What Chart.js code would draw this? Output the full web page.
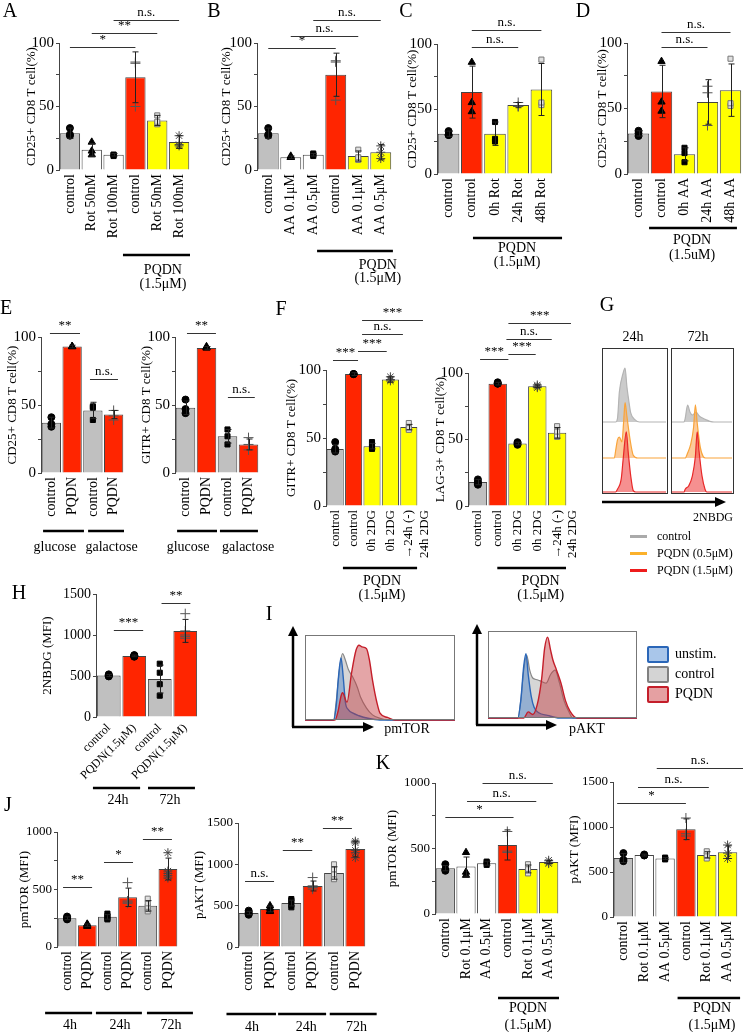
<!DOCTYPE html>
<html>
<head>
<meta charset="utf-8">
<script src="https://cdn.jsdelivr.net/npm/chart.js@4.4.1/dist/chart.umd.min.js"></script>
<style>
body { margin: 0; background: #fff; }
#page { position: relative; width: 744px; height: 1032px; overflow: hidden; font-family: "Liberation Serif", "Times New Roman", serif; color: #000; }
canvas { position: absolute; }
.t { position: absolute; white-space: nowrap; transform: translate(-50%, -50%); line-height: 1; }
.tl { position: absolute; white-space: nowrap; transform: translate(0, -50%); line-height: 1; }
.box { position: absolute; border: 1px solid #333; box-sizing: border-box; }
.sw { position: absolute; box-sizing: border-box; border-radius: 2px; border: 2px solid; }
</style>
</head>
<body>
<div id="page"></div>
<script>
// ---------- A: rotenone, CD25 ----------
const aLabels = ['control', 'Rot 50nM', 'Rot 100nM', 'control', 'Rot 50nM', 'Rot 100nM'];
const aMeans = [29, 16, 12, 73, 39, 22];
const aSd = [4, 5, 1, 20, 4, 5];
const aPoints = [[33, 27, 28], [22, 15, 12], [12, 12, 11], [85, 84, 50], [43, 38, 36], [27, 20, 19]];

// ---------- B: antimycin A, CD25 ----------
const bLabels = ['control', 'AA 0.1μM', 'AA 0.5μM', 'control', 'AA 0.1μM', 'AA 0.5μM'];
const bMeans = [29, 10, 12, 75, 11, 14];
const bSd = [4, 1, 1, 17, 4, 6];
const bPoints = [[33, 27, 28], [11, 10, 10], [13, 12, 11], [86, 85, 55], [16, 10, 8], [19, 14, 9]];

// ---------- C: rotenone timing ----------
const cLabels = ['control', 'control', '0h Rot', '24h Rot', '48h Rot'];
const cMeans = [31, 63, 31, 53, 65];
const cSd = [2, 20, 9, 2, 20];
const cPoints = [[33, 30, 30], [86, 55, 48], [40, 27, 25], [55, 52, 52], [88, 55, 53]];

// ---------- D: AA timing ----------
const dLabels = ['control', 'control', '0h AA', '24h AA', '48h AA'];
const dMeans = [31, 63, 15, 55, 64];
const dSd = [2, 20, 5, 17, 20];
const dPoints = [[33, 29, 31], [86, 55, 48], [20, 16, 9], [67, 62, 37], [88, 54, 52]];

// ---------- E: glucose / galactose ----------
const eLabels = ['control', 'PQDN', 'control', 'PQDN'];
const eCd25Means = [37, 93, 46, 43];
const eCd25Sd = [4, 1, 6, 3];
const eCd25Points = [[41, 36, 34], [93, 93, 93], [49, 48, 39], [46, 42, 39]];
const eGitrMeans = [48, 92, 27, 21];
const eGitrSd = [5, 1, 5, 4];
const eGitrPoints = [[54, 47, 44], [93, 92, 92], [32, 27, 21], [26, 21, 17]];

// ---------- F: 2DG ----------
const fLabels = ['control', 'control', '0h 2DG', '0h 2DG', ['→24h (-)', '24h 2DG']];
const fGitrMeans = [42, 97, 44, 93, 58];
const fGitrSd = [3, 1, 2, 2, 2];
const fGitrPoints = [[47, 42, 40, 41], [97, 97, 97], [47, 45, 43, 42], [95, 93, 92], [61, 58, 56, 57]];
const fLagMeans = [18, 92, 47, 90, 55];
const fLagSd = [2, 1, 1, 1, 4];
const fLagPoints = [[20, 18, 17, 16], [93, 92, 92], [48, 47, 46], [91, 90, 89], [60, 56, 53, 52]];

// ---------- H: 2NBDG MFI ----------
const hLabels = ['control', 'PQDN(1.5μM)', 'control', 'PQDN(1.5μM)'];
const hMeans = [505, 745, 463, 1050];
const hSd = [12, 10, 170, 140];
const hPoints = [[520, 510, 505, 500, 495], [755, 750, 745, 740, 735], [650, 540, 400, 260], [1260, 1000, 980, 960, 1050]];

// ---------- J: time course ----------
const jLabels = ['control', 'PQDN', 'control', 'PQDN', 'control', 'PQDN'];
const jMtorMeans = [250, 190, 262, 432, 358, 678];
const jMtorSd = [12, 10, 20, 80, 45, 95];
const jMtorPoints = [[265, 255, 245, 240], [200, 195, 185, 180], [290, 270, 250, 240], [560, 400, 390, 380], [420, 380, 350, 330, 310], [820, 660, 640, 620, 600]];
const jAktMeans = [411, 460, 532, 738, 895, 1185];
const jAktSd = [20, 35, 35, 60, 75, 95];
const jAktPoints = [[440, 420, 400, 390], [500, 470, 440, 430], [580, 560, 510, 480], [840, 740, 720, 700], [1000, 940, 880, 820, 830], [1280, 1260, 1170, 1080, 1140]];

// ---------- K: inhibitors ----------
const kLabels = ['control', 'Rot 0.1μM', 'AA 0.5μM', 'control', 'Rot 0.1μM', 'AA 0.5μM'];
const kMtorMeans = [350, 362, 388, 527, 344, 397];
const kMtorSd = [20, 73, 15, 115, 30, 12];
const kMtorPoints = [[380, 340, 330], [470, 320, 296], [400, 390, 375], [630, 480, 470], [380, 345, 310], [410, 395, 385]];
const kAktMeans = [655, 688, 650, 975, 690, 720];
const kAktSd = [50, 10, 10, 115, 35, 70];
const kAktPoints = [[710, 620, 635], [695, 685, 684], [660, 650, 640], [1100, 900, 925], [730, 690, 650], [800, 710, 650]];

// ---------- histograms, x: % of frame width, y: fraction of height ----------
const g24Control = [[0, 0], [20, 0], [23, 0.05], [26, 0.43], [32, 0.7], [35, 0.77], [38, 0.5], [41, 0.3], [44, 0.13], [51, 0.03], [58, 0], [100, 0]];
const g24Low = [[0, 0], [18, 0], [20, 0.1], [23, 0.26], [26, 0.3], [30, 0.23], [33, 0.55], [35, 0.79], [38, 0.59], [43, 0.26], [48, 0.04], [55, 0], [100, 0]];
const g24High = [[0, 0], [20, 0], [23, 0.04], [29, 0.19], [32, 0.47], [37, 0.86], [40, 0.57], [44, 0.23], [48, 0.02], [52, 0], [100, 0]];
const g72Control = [[0, 0], [20, 0], [22, 0.05], [26, 0.24], [30, 0.14], [34, 0.1], [40, 0.14], [45, 0.09], [50, 0.06], [57, 0.03], [63, 0.01], [70, 0], [100, 0]];
const g72Low = [[0, 0], [22, 0], [26, 0.07], [31, 0.19], [36, 0.44], [39, 0.76], [42, 0.5], [47, 0.16], [52, 0.02], [56, 0], [100, 0]];
const g72High = [[0, 0], [20, 0], [22, 0.04], [28, 0.09], [34, 0.23], [39, 0.51], [42, 0.86], [45, 0.59], [50, 0.23], [55, 0.04], [58, 0], [100, 0]];

const pmtorUnstim = [[0, 0], [19, 0], [21, 0.2], [22, 0.44], [24, 0.73], [25.5, 0.5], [27, 0.2], [29, 0.12], [32, 0.08], [36, 0.05], [42, 0.02], [50, 0], [100, 0]];
const pmtorControl = [[0, 0], [19, 0], [21, 0.25], [23, 0.6], [25, 0.78], [27, 0.7], [29, 0.59], [32, 0.5], [35, 0.38], [37, 0.27], [41, 0.14], [45, 0.06], [50, 0.02], [55, 0], [100, 0]];
const pmtorPqdn = [[0, 0], [20, 0], [22, 0.1], [24, 0.28], [25, 0.32], [28, 0.21], [31, 0.55], [34, 0.82], [36, 0.88], [38, 0.86], [41, 0.84], [43, 0.7], [45, 0.47], [48, 0.2], [50, 0.08], [55, 0.03], [60, 0], [100, 0]];
const paktUnstim = [[0, 0], [20, 0], [22, 0.2], [24, 0.6], [25.5, 0.74], [27, 0.5], [29, 0.25], [31, 0.12], [34, 0.06], [40, 0.03], [48, 0], [100, 0]];
const paktControl = [[0, 0], [20, 0], [22, 0.2], [24, 0.55], [26, 0.72], [28, 0.55], [30, 0.46], [33, 0.44], [36, 0.42], [39, 0.4], [42, 0.5], [45, 0.55], [48, 0.4], [51, 0.2], [54, 0.08], [57, 0], [100, 0]];
const paktPqdn = [[0, 0], [24, 0], [27, 0.07], [30, 0.04], [33, 0.15], [36, 0.45], [38, 0.8], [40, 0.93], [42, 0.78], [43.5, 0.67], [46, 0.55], [49, 0.4], [52, 0.2], [55, 0.08], [60, 0], [100, 0]];

// ---------- styles ----------
const GRAY = '#c0c0c0', RED = '#ff2500', YEL = '#ffff00', WHITE = '#ffffff';
const FONT = '"Liberation Serif", "Times New Roman", serif';
const MARK = {
  circle: { s: 'circle', r: 3.5, bg: '#000', bd: '#000' },
  triangle: { s: 'triangle', r: 4.2, bg: '#000', bd: '#000' },
  square: { s: 'rect', r: 3.6, bg: '#000', bd: '#000' },
  plus: { s: 'cross', r: 5, bg: 'rgba(0,0,0,0)', bd: '#555' },
  boxx: { s: 'rect', r: 3.6, bg: '#e0e0e0', bd: '#777' },
  star: { s: 'star', r: 4.5, bg: 'rgba(0,0,0,0)', bd: '#444' }
};

Chart.defaults.font.family = FONT;
Chart.defaults.font.size = 13;
Chart.defaults.color = '#000';
Chart.defaults.animation = false;
Chart.defaults.plugins.legend.display = false;
Chart.defaults.plugins.tooltip.enabled = false;

const page = document.getElementById('page');

function addCanvas(left, top, w, h) {
  const c = document.createElement('canvas');
  c.width = w; c.height = h;
  c.style.left = left + 'px'; c.style.top = top + 'px';
  c.style.width = w + 'px'; c.style.height = h + 'px';
  page.appendChild(c);
  return c;
}

function text(x, y, s, size, cls) {
  const d = document.createElement('div');
  d.className = cls || 't';
  d.style.left = x + 'px'; d.style.top = y + 'px';
  d.style.fontSize = size + 'px';
  d.textContent = s;
  page.appendChild(d);
  return d;
}

// error bars, brackets and group underlines, all placed through the chart scales
function extras(box, sd) {
  return {
    id: 'extras',
    afterDatasetsDraw(chart) {
      const { ctx } = chart;
      const ys = chart.scales.y;
      const meta = chart.getDatasetMeta(0);
      ctx.save();
      ctx.strokeStyle = '#222';
      ctx.lineWidth = 1;
      meta.data.forEach((bar, i) => {
        const m = chart.data.datasets[0].data[i];
        const x = Math.round(bar.x) + 0.5;
        const y1 = ys.getPixelForValue(m - sd[i]), y2 = ys.getPixelForValue(m + sd[i]);
        ctx.beginPath();
        ctx.moveTo(x, y1); ctx.lineTo(x, y2);
        ctx.moveTo(x - 3, y1); ctx.lineTo(x + 3, y1);
        ctx.moveTo(x - 3, y2); ctx.lineTo(x + 3, y2);
        ctx.stroke();
      });
      ctx.restore();
    },
    afterDraw(chart) {
      const { ctx, chartArea } = chart;
      const xs = chart.scales.x, ys = chart.scales.y;
      const px = i => xs.getPixelForValue(i);
      ctx.save();
      ctx.textAlign = 'center';
      ctx.font = '13px ' + FONT;
      (box.brackets || []).forEach(([i0, i1, v, t]) => {
        const y = Math.round(ys.getPixelForValue(v)) + 0.5;
        ctx.strokeStyle = '#333';
        ctx.lineWidth = 1;
        ctx.beginPath(); ctx.moveTo(px(i0), y); ctx.lineTo(px(i1), y); ctx.stroke();
        ctx.fillStyle = '#000';
        ctx.textBaseline = 'bottom';
        ctx.fillText(t, (px(i0) + px(i1)) / 2, y - 1);
      });
      ctx.font = '14px ' + FONT;
      (box.groups || []).forEach(g => {
        const y = chartArea.bottom + g.dy;
        ctx.strokeStyle = '#000';
        ctx.lineWidth = 2.5;
        ctx.beginPath(); ctx.moveTo(px(g.a), y); ctx.lineTo(px(g.b), y); ctx.stroke();
        ctx.textBaseline = 'middle';
        g.text.forEach((t, j) => ctx.fillText(t, px(g.tx), chartArea.bottom + g.ty[j]));
      });
      ctx.restore();
    }
  };
}

function barChart(box, labels, means, sd, points, fills, marks) {
  const PT = Math.min(70, box.top), XH = 70, PB = 60, PR = 40;
  const YW = Math.round(box.gap + 8);
  const left = box.x0 - YW;
  const w = box.x1 + PR - left, h = PT + (box.bottom - box.top) + XH + PB;
  const cv = addCanvas(left, box.top - PT, w, h);
  const rot = box.rot || 90;
  const reps = Math.max(...points.map(p => p.length));
  const dots = [];
  for (let k = 0; k < reps; k++) {
    dots.push({
      type: 'line', showLine: false, order: 1,
      data: points.map(p => (p[k] === undefined ? null : p[k])),
      pointStyle: c => MARK[marks[c.dataIndex]].s,
      pointRadius: c => MARK[marks[c.dataIndex]].r,
      pointBackgroundColor: c => MARK[marks[c.dataIndex]].bg,
      pointBorderColor: c => MARK[marks[c.dataIndex]].bd,
      pointBorderWidth: 1
    });
  }
  new Chart(cv, {
    type: 'bar',
    data: {
      labels: labels,
      datasets: [{
        data: means, order: 2,
        backgroundColor: fills, borderColor: '#444', borderWidth: 1,
        barPercentage: 0.93, categoryPercentage: 1
      }, ...dots]
    },
    options: {
      responsive: false,
      layout: { padding: { left: 0, top: PT, right: PR, bottom: PB } },
      scales: {
        x: {
          grid: { display: false, drawTicks: false },
          border: { display: false },
          ticks: { autoSkip: false, minRotation: rot, maxRotation: rot, padding: 4, font: { size: box.xfs || 14 } },
          afterFit: s => { s.height = XH; }
        },
        y: {
          min: 0, max: box.max,
          ticks: { stepSize: box.step, padding: 2, font: { size: box.yfs || 15 }, callback: v => (v % box.major === 0 ? v : '') },
          grid: { drawOnChartArea: false, tickLength: 3, color: '#444' },
          border: { color: '#444' },
          title: { display: true, text: box.title, padding: 0, font: { size: 13 } },
          afterFit: s => { s.width = YW; }
        }
      }
    },
    plugins: [extras(box, sd)]
  });
}

const frame = {
  id: 'frame',
  afterDraw(chart) {
    const { ctx, chartArea: a } = chart;
    ctx.save();
    ctx.strokeStyle = '#777';
    ctx.lineWidth = 1;
    ctx.strokeRect(a.left + 0.5, a.top + 0.5, a.width - 1, a.height - 1);
    ctx.restore();
  }
};

function histChart(left, top, w, h, pad, sets, withFrame) {
  const cv = addCanvas(left, top, w, h);
  new Chart(cv, {
    type: 'line',
    data: {
      datasets: sets.map(s => ({
        data: s.pts.map(([x, y]) => ({ x, y })),
        borderColor: s.line, backgroundColor: s.fill, borderWidth: s.bw || 1.2,
        fill: 'origin', pointRadius: 0, cubicInterpolationMode: 'monotone', clip: 3
      }))
    },
    options: {
      responsive: false,
      layout: { padding: pad },
      scales: {
        x: { type: 'linear', min: 0, max: 100, display: false },
        y: { min: 0, max: 1, display: false }
      }
    },
    plugins: withFrame ? [frame] : []
  });
}

// ---------- row 1 ----------
barChart({ x0: 59, x1: 190, top: 43, bottom: 170, gap: 27, max: 100, step: 25, major: 50,
  title: 'CD25+ CD8 T cell(%)',
  brackets: [[0, 3, 97, '*'], [1, 4, 108, '**'], [2, 5, 118, 'n.s.']],
  groups: [{ a: 2.43, b: 5.5, dy: 85, tx: 4.26, ty: [100, 114], text: ['PQDN', '(1.5μM)'] }] },
  aLabels, aMeans, aSd, aPoints, [GRAY, WHITE, WHITE, RED, YEL, YEL],
  ['circle', 'triangle', 'square', 'plus', 'boxx', 'star']);

barChart({ x0: 257, x1: 392, top: 43, bottom: 170, gap: 30, max: 100, step: 25, major: 50,
  title: 'CD25+ CD8 T cell(%)',
  brackets: [[0, 3, 96, '*'], [1, 4, 105.5, 'n.s.'], [2, 5, 118, 'n.s.']],
  groups: [{ a: 2.17, b: 5.54, dy: 81, tx: 4.87, ty: [95, 108], text: ['PQDN', '(1.5μM)'] }] },
  bLabels, bMeans, bSd, bPoints, [GRAY, WHITE, WHITE, RED, YEL, YEL],
  ['circle', 'triangle', 'square', 'plus', 'boxx', 'star']);

barChart({ x0: 437, x1: 553, top: 44, bottom: 174, gap: 24, max: 100, step: 25, major: 50,
  title: 'CD25+ CD8 T cell(%)',
  brackets: [[1, 3, 97.7, 'n.s.'], [1, 4, 111, 'n.s.']],
  groups: [{ a: 1.05, b: 4.89, dy: 64, tx: 2.95, ty: [74, 88], text: ['PQDN', '(1.5μM)'] }] },
  cLabels, cMeans, cSd, cPoints, [GRAY, RED, YEL, YEL, YEL],
  ['circle', 'triangle', 'square', 'plus', 'boxx']);

barChart({ x0: 627, x1: 742, top: 43, bottom: 174, gap: 24, max: 100, step: 25, major: 50,
  title: 'CD25+ CD8 T cell(%)',
  brackets: [[1, 3, 97, 'n.s.'], [1, 4, 108.4, 'n.s.']],
  groups: [{ a: 0.46, b: 4.28, dy: 54, tx: 2.33, ty: [66, 81], text: ['PQDN', '(1.5uM)'] }] },
  dLabels, dMeans, dSd, dPoints, [GRAY, RED, YEL, YEL, YEL],
  ['circle', 'triangle', 'square', 'plus', 'boxx']);

// ---------- row 2 ----------
barChart({ x0: 41, x1: 124, top: 337, bottom: 473, gap: 28, max: 100, step: 25, major: 50,
  title: 'CD25+ CD8 T cell(%)',
  brackets: [[-0.07, 1.38, 103, '**'], [1.86, 3.21, 69, 'n.s.']],
  groups: [{ a: -0.4, b: 1.57, dy: 58, tx: 0.17, ty: [74], text: ['glucose'] },
           { a: 1.77, b: 3.5, dy: 58, tx: 2.9, ty: [74], text: ['galactose'] }] },
  eLabels, eCd25Means, eCd25Sd, eCd25Points, [GRAY, RED, GRAY, RED],
  ['circle', 'triangle', 'square', 'plus']);

barChart({ x0: 175, x1: 259, top: 337, bottom: 473, gap: 28, max: 100, step: 25, major: 50,
  title: 'GITR+ CD8 T cell(%)',
  brackets: [[0.07, 1.45, 103, '**'], [2.02, 3.3, 56, 'n.s.']],
  groups: [{ a: -0.4, b: 1.5, dy: 58, tx: 0.12, ty: [74], text: ['glucose'] },
           { a: 1.64, b: 3.45, dy: 58, tx: 2.98, ty: [74], text: ['galactose'] }] },
  eLabels, eGitrMeans, eGitrSd, eGitrPoints, [GRAY, RED, GRAY, RED],
  ['circle', 'triangle', 'square', 'plus']);

barChart({ x0: 326, x1: 418, top: 370, bottom: 506, gap: 34, max: 100, step: 25, major: 50, xfs: 13,
  title: 'GITR+ CD8 T cell(%)',
  brackets: [[-0.12, 1.24, 107, '***'], [1.24, 2.8, 114, '***'], [1.46, 3.68, 126.5, 'n.s.'], [1.46, 4.77, 137, '***']],
  groups: [{ a: 0.42, b: 4.45, dy: 62, tx: 2.54, ty: [75, 89], text: ['PQDN', '(1.5μM)'] }] },
  fLabels, fGitrMeans, fGitrSd, fGitrPoints, [GRAY, RED, YEL, YEL, YEL],
  ['circle', 'circle', 'square', 'star', 'boxx']);

barChart({ x0: 468, x1: 567, top: 373, bottom: 506, gap: 27, max: 100, step: 25, major: 50, xfs: 13,
  title: 'LAG-3+ CD8 T cell(%)',
  brackets: [[0.11, 1.54, 110.5, '***'], [1.54, 2.92, 114, '***'], [1.44, 3.73, 125.6, 'n.s.'], [1.54, 4.7, 137.6, '***']],
  groups: [{ a: 0.98, b: 4.45, dy: 62, tx: 3.17, ty: [75, 89], text: ['PQDN', '(1.5μM)'] }] },
  fLabels, fLagMeans, fLagSd, fLagPoints, [GRAY, RED, YEL, YEL, YEL],
  ['circle', 'circle', 'circle', 'star', 'boxx']);

// ---------- H ----------
barChart({ x0: 96, x1: 198, top: 594, bottom: 717, gap: 48, max: 1500, step: 500, major: 500, rot: 45, xfs: 12, yfs: 14,
  title: '2NBDG (MFI)',
  brackets: [[0.2, 1.35, 1061, '***'], [2.07, 3.2, 1390, '**']],
  groups: [{ a: -0.62, b: 1.23, dy: 71, tx: 0.36, ty: [83], text: ['24h'] },
           { a: 1.54, b: 3.38, dy: 71, tx: 2.4, ty: [83], text: ['72h'] }] },
  hLabels, hMeans, hSd, hPoints, [GRAY, RED, GRAY, RED],
  ['circle', 'circle', 'square', 'plus']);

// ---------- J ----------
barChart({ x0: 57, x1: 178, top: 832, bottom: 947, gap: 32, max: 1000, step: 250, major: 500, yfs: 13,
  title: 'pmTOR (MFI)',
  brackets: [[-0.2, 1.24, 522, '**'], [1.83, 3.27, 739, '*'], [3.76, 5.2, 939, '**']],
  groups: [{ a: -1.09, b: 1.24, dy: 66, tx: 0.14, ty: [78], text: ['4h'] },
           { a: 1.43, b: 3.71, dy: 66, tx: 2.62, ty: [78], text: ['24h'] },
           { a: 3.96, b: 6.24, dy: 66, tx: 5.15, ty: [78], text: ['72h'] }] },
  jLabels, jMtorMeans, jMtorSd, jMtorPoints, [GRAY, RED, GRAY, RED, GRAY, RED],
  ['circle', 'triangle', 'square', 'plus', 'boxx', 'star']);

barChart({ x0: 238, x1: 366, top: 823, bottom: 947, gap: 38, max: 1500, step: 500, major: 500, yfs: 13,
  title: 'pAKT (MFI)',
  brackets: [[-0.17, 1.19, 798, 'n.s.'], [1.6, 2.98, 1173, '**'], [3.48, 4.84, 1439, '**']],
  groups: [{ a: -1.04, b: 1.28, dy: 67, tx: 0.16, ty: [80], text: ['4h'] },
           { a: 1.38, b: 3.63, dy: 67, tx: 2.7, ty: [80], text: ['24h'] },
           { a: 3.8, b: 6.0, dy: 67, tx: 5.05, ty: [80], text: ['72h'] }] },
  jLabels, jAktMeans, jAktSd, jAktPoints, [GRAY, RED, GRAY, RED, GRAY, RED],
  ['circle', 'triangle', 'square', 'plus', 'boxx', 'star']);

// ---------- K ----------
barChart({ x0: 435, x1: 559, top: 783, bottom: 914, gap: 42, max: 1000, step: 250, major: 500, yfs: 13,
  title: 'pmTOR (MFI)',
  brackets: [[0, 3.3, 740, '*'], [1.05, 4.4, 863, 'n.s.'], [1.8, 5.2, 1000, 'n.s.']],
  groups: [{ a: 2.55, b: 5.5, dy: 84, tx: 4.0, ty: [94, 111], text: ['PQDN', '(1.5μM)'] }] },
  kLabels, kMtorMeans, kMtorSd, kMtorPoints, [GRAY, WHITE, WHITE, RED, YEL, YEL],
  ['circle', 'triangle', 'square', 'plus', 'boxx', 'star']);

barChart({ x0: 613, x1: 738, top: 782, bottom: 917, gap: 38, max: 1500, step: 500, major: 500, yfs: 13,
  title: 'pAKT (MFI)',
  brackets: [[-0.3, 3.0, 1267, '*'], [0.7, 4.1, 1444, 'n.s.'], [1.6, 5.74, 1655, 'n.s.']],
  groups: [{ a: 2.6, b: 5.6, dy: 81, tx: 4.25, ty: [91, 108], text: ['PQDN', '(1.5μM)'] }] },
  kLabels, kAktMeans, kAktSd, kAktPoints, [GRAY, WHITE, WHITE, RED, YEL, YEL],
  ['circle', 'circle', 'square', 'plus', 'boxx', 'star']);

// ---------- G: stacked 2NBDG histograms ----------
const G_GRAY = { line: '#b4b4b4', fill: 'rgba(160,160,160,0.55)' };
const G_ORANGE = { line: '#f9a43a', fill: 'rgba(250,170,90,0.6)' };
const G_RED = { line: '#e82828', fill: 'rgba(240,70,70,0.6)' };
[[603, 63, [g24Control, g24Low, g24High]], [672, 60, [g72Control, g72Low, g72High]]].forEach(([x, w, tr]) => {
  histChart(x, 422 - 70, w, 72, { bottom: 2 }, [Object.assign({ pts: tr[0] }, G_GRAY)]);
  histChart(x, 458 - 70, w, 72, { bottom: 2 }, [Object.assign({ pts: tr[1] }, G_ORANGE)]);
  histChart(x, 492 - 70, w, 72, { bottom: 2 }, [Object.assign({ pts: tr[2] }, G_RED)]);
});
[[602, 66], [671, 63]].forEach(([x, w]) => {
  const b = document.createElement('div');
  b.className = 'box';
  b.style.cssText = `left:${x}px;top:348px;width:${w}px;height:146px`;
  page.appendChild(b);
});

// ---------- I: pmTOR / pAKT overlays ----------
const I_BLUE = { line: '#2a66b8', fill: 'rgba(70,130,205,0.45)', bw: 1.4 };
const I_GRAY = { line: '#888888', fill: 'rgba(165,165,165,0.45)', bw: 1.2 };
const I_RED = { line: '#c41e2a', fill: 'rgba(195,55,60,0.45)', bw: 1.4 };
histChart(303, 633, 154, 89, 2, [
  Object.assign({ pts: pmtorPqdn }, I_RED), Object.assign({ pts: pmtorUnstim }, I_BLUE), Object.assign({ pts: pmtorControl }, I_GRAY)
], true);
histChart(486, 629, 153, 91, 2, [
  Object.assign({ pts: paktPqdn }, I_RED), Object.assign({ pts: paktUnstim }, I_BLUE), Object.assign({ pts: paktControl }, I_GRAY)
], true);

// ---------- arrows ----------
page.insertAdjacentHTML('beforeend', `
<svg width="744" height="1032" style="position:absolute;left:0;top:0;pointer-events:none">
  <g stroke="#000" stroke-width="2.5" fill="none">
    <line x1="602" y1="502" x2="717" y2="502"/>
    <line x1="293" y1="727" x2="293" y2="634"/><line x1="292" y1="727" x2="365" y2="727"/>
    <line x1="477" y1="725" x2="477" y2="632"/><line x1="476" y1="725" x2="548" y2="725"/>
  </g>
  <g fill="#000">
    <polygon points="715,497 726,502 715,507"/>
    <polygon points="288,636 293,626 298,636"/><polygon points="363,722 374,727 363,732"/>
    <polygon points="472,634 477,624 482,634"/><polygon points="546,720 557,725 546,730"/>
  </g>
</svg>`);

// ---------- texts and legends ----------
[['A', 10, 10], ['B', 214, 10], ['C', 406, 10], ['D', 583, 10], ['E', 6, 307], ['F', 281, 308],
 ['G', 607, 304], ['H', 19, 592], ['I', 269, 613], ['J', 8, 804], ['K', 383, 762]]
  .forEach(([s, x, y]) => text(x, y, s, 20));

text(633, 337, '24h', 14);
text(698, 337, '72h', 14);
text(713, 517, '2NBDG', 12);
text(407, 729, 'pmTOR', 14);
text(587, 729, 'pAKT', 14);

[['control', '#aaaaaa', 536], ['PQDN (0.5μM)', '#fbb12b', 553], ['PQDN (1.5μM)', '#ee1c1c', 570]].forEach(([s, c, y]) => {
  const l = document.createElement('div');
  l.style.cssText = `position:absolute;left:630px;top:${y - 1.5}px;width:17px;height:3px;background:${c}`;
  page.appendChild(l);
  text(657, y, s, 12, 'tl');
});

[['unstim.', '#a9c6ea', '#2a66b8', 654], ['control', '#d4d4d4', '#808080', 674], ['PQDN', '#e5a0a2', '#c41e2a', 694]].forEach(([s, f, b, y]) => {
  const sw = document.createElement('div');
  sw.className = 'sw';
  sw.style.cssText += `left:647px;top:${y - 8}px;width:22px;height:17px;background:${f};border-color:${b}`;
  page.appendChild(sw);
  text(675, y, s, 14, 'tl');
});
</script>
</body>
</html>
